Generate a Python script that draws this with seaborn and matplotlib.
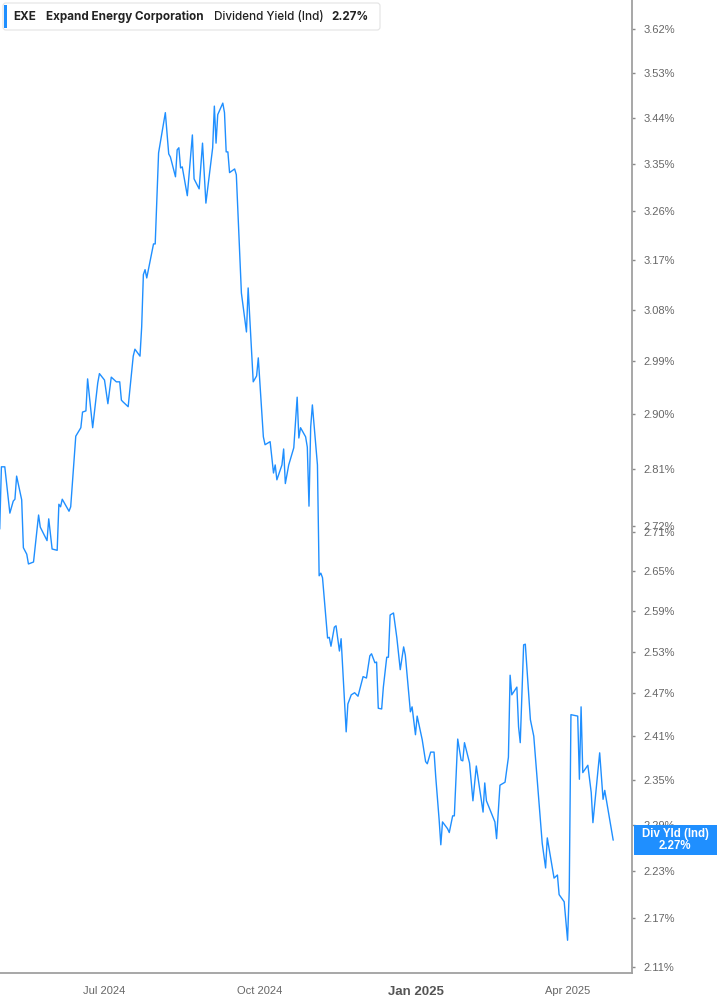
import pandas as pd
import matplotlib.pyplot as plt
import matplotlib.ticker as mticker
from matplotlib.patches import Rectangle, FancyBboxPatch
import seaborn as sns

# Dividend yield (Ind) readings
dates = [
    '2024-04-30', '2024-05-01', '2024-05-03', '2024-05-06', '2024-05-08', '2024-05-09',
    '2024-05-10', '2024-05-13', '2024-05-14', '2024-05-16', '2024-05-17', '2024-05-20',
    '2024-05-23', '2024-05-24', '2024-05-28', '2024-05-29', '2024-05-31', '2024-06-03',
    '2024-06-04', '2024-06-05', '2024-06-06', '2024-06-10', '2024-06-11', '2024-06-14',
    '2024-06-17', '2024-06-18', '2024-06-20', '2024-06-21', '2024-06-24', '2024-06-27',
    '2024-06-28', '2024-07-01', '2024-07-03', '2024-07-05', '2024-07-08', '2024-07-10',
    '2024-07-11', '2024-07-12', '2024-07-15', '2024-07-18', '2024-07-19', '2024-07-22',
    '2024-07-23', '2024-07-24', '2024-07-25', '2024-07-26', '2024-07-30', '2024-07-31',
    '2024-08-02', '2024-08-06', '2024-08-08', '2024-08-09', '2024-08-12', '2024-08-13',
    '2024-08-14', '2024-08-15', '2024-08-16', '2024-08-19', '2024-08-22', '2024-08-23',
    '2024-08-26', '2024-08-28', '2024-08-30', '2024-09-03', '2024-09-04', '2024-09-05',
    '2024-09-06', '2024-09-09', '2024-09-10', '2024-09-11', '2024-09-12', '2024-09-13',
    '2024-09-16', '2024-09-17', '2024-09-20', '2024-09-23', '2024-09-24', '2024-09-27',
    '2024-09-29', '2024-09-30', '2024-10-03', '2024-10-04', '2024-10-07', '2024-10-09',
    '2024-10-10', '2024-10-11', '2024-10-14', '2024-10-15', '2024-10-16', '2024-10-18',
    '2024-10-21', '2024-10-23', '2024-10-24', '2024-10-25', '2024-10-28', '2024-10-29',
    '2024-10-30', '2024-10-31', '2024-11-01', '2024-11-04', '2024-11-05', '2024-11-06',
    '2024-11-07', '2024-11-10', '2024-11-11', '2024-11-12', '2024-11-14', '2024-11-15',
    '2024-11-17', '2024-11-18', '2024-11-21', '2024-11-22', '2024-11-24', '2024-11-26',
    '2024-11-28', '2024-12-01', '2024-12-03', '2024-12-05', '2024-12-06', '2024-12-08',
    '2024-12-09', '2024-12-10', '2024-12-12', '2024-12-13', '2024-12-15', '2024-12-16',
    '2024-12-17', '2024-12-19', '2024-12-21', '2024-12-23', '2024-12-25', '2024-12-26',
    '2024-12-29', '2024-12-30', '2025-01-01', '2025-01-02', '2025-01-05', '2025-01-07',
    '2025-01-08', '2025-01-10', '2025-01-12', '2025-01-13', '2025-01-15', '2025-01-16',
    '2025-01-17', '2025-01-20', '2025-01-21', '2025-01-23', '2025-01-24', '2025-01-26',
    '2025-01-28', '2025-01-29', '2025-01-30', '2025-02-02', '2025-02-04', '2025-02-06',
    '2025-02-10', '2025-02-11', '2025-02-12', '2025-02-17', '2025-02-18', '2025-02-20',
    '2025-02-23', '2025-02-25', '2025-02-26', '2025-02-27', '2025-03-02', '2025-03-03',
    '2025-03-04', '2025-03-06', '2025-03-07', '2025-03-10', '2025-03-12', '2025-03-17',
    '2025-03-19', '2025-03-20', '2025-03-24', '2025-03-26', '2025-03-27', '2025-03-30',
    '2025-04-01', '2025-04-02', '2025-04-03', '2025-04-07', '2025-04-08', '2025-04-09',
    '2025-04-10', '2025-04-13', '2025-04-15', '2025-04-16', '2025-04-20', '2025-04-22',
    '2025-04-23', '2025-04-28',
]
yields = [
    2.715, 2.814, 2.814, 2.740, 2.759, 2.762,
    2.799, 2.761, 2.686, 2.676, 2.661, 2.664,
    2.737, 2.718, 2.697, 2.731, 2.684, 2.682,
    2.754, 2.750, 2.762, 2.743, 2.750, 2.864,
    2.878, 2.904, 2.906, 2.960, 2.878, 2.953,
    2.969, 2.958, 2.918, 2.963, 2.955, 2.955,
    2.924, 2.921, 2.913, 2.999, 3.011, 2.999,
    3.050, 3.143, 3.152, 3.137, 3.199, 3.199,
    3.371, 3.450, 3.369, 3.363, 3.325, 3.377,
    3.381, 3.342, 3.344, 3.289, 3.406, 3.321,
    3.302, 3.390, 3.275, 3.381, 3.463, 3.390,
    3.446, 3.469, 3.450, 3.373, 3.373, 3.333,
    3.340, 3.329, 3.110, 3.041, 3.119, 2.955,
    2.965, 2.996, 2.863, 2.850, 2.855, 2.804,
    2.817, 2.793, 2.817, 2.843, 2.787, 2.817,
    2.845, 2.929, 2.861, 2.878, 2.863, 2.846,
    2.751, 2.879, 2.916, 2.817, 2.643, 2.647,
    2.640, 2.550, 2.551, 2.538, 2.566, 2.568,
    2.531, 2.549, 2.416, 2.455, 2.468, 2.471,
    2.466, 2.494, 2.492, 2.524, 2.527, 2.514,
    2.515, 2.449, 2.448, 2.479, 2.522, 2.522,
    2.584, 2.587, 2.550, 2.504, 2.537, 2.525,
    2.444, 2.451, 2.412, 2.438, 2.405, 2.375,
    2.372, 2.388, 2.388, 2.354, 2.297, 2.264,
    2.294, 2.285, 2.280, 2.302, 2.302, 2.406,
    2.377, 2.376, 2.401, 2.373, 2.322, 2.369,
    2.307, 2.346, 2.322, 2.294, 2.272, 2.343,
    2.347, 2.381, 2.496, 2.468, 2.479, 2.423,
    2.401, 2.540, 2.541, 2.433, 2.410, 2.266,
    2.234, 2.273, 2.221, 2.225, 2.200, 2.191,
    2.143, 2.206, 2.440, 2.438, 2.351, 2.451,
    2.360, 2.370, 2.333, 2.293, 2.387, 2.324,
    2.336, 2.270,
]

y_ticks = [2.11, 2.17, 2.23, 2.29, 2.35, 2.41, 2.47, 2.53, 2.59, 2.65, 2.71,
           2.72, 2.81, 2.90, 2.99, 3.08, 3.17, 3.26, 3.35, 3.44, 3.53, 3.62]
x_ticks = ['2024-07-01', '2024-10-01', '2025-01-01', '2025-04-01']
x_labels = ['Jul 2024', 'Oct 2024', 'Jan 2025', 'Apr 2025']

legend_parts = ['EXE', 'Expand Energy Corporation', 'Dividend Yield (Ind)', '2.27%']
last_label = 'Div Yld (Ind)\n2.27%'

df = pd.DataFrame({'Date': pd.to_datetime(dates), 'Yield': yields})

sns.set_style('white')
plt.rcParams['font.family'] = ['Liberation Sans', 'DejaVu Sans']

W, H = 717, 1005
blue = '#1f8fff'
fig = plt.figure(figsize=(W / 100, H / 100), dpi=100)
ax = fig.add_axes([0, 32 / H, 632 / W, 973 / H])

sns.lineplot(data=df, x='Date', y='Yield', ax=ax, color=blue, linewidth=1.0,
             estimator=None, sort=False)

ax.set_yscale('log')
ax.set_ylim(2.103, 3.681)
ax.set_xlim(pd.Timestamp('2024-04-30 04:00'), pd.Timestamp('2025-05-09 03:00'))

# y axis on the right, percent labels
ax.yaxis.tick_right()
ax.yaxis.set_major_locator(mticker.FixedLocator(y_ticks))
ax.yaxis.set_minor_locator(mticker.NullLocator())
ax.yaxis.set_major_formatter(mticker.FuncFormatter(lambda v, p: f'{v:.2f}%'))
ax.tick_params(axis='y', which='major', length=2.5, width=1, color='#8a8a8a',
               pad=6, labelsize=8, labelcolor='#666666')

ax.set_xticks(pd.to_datetime(x_ticks))
ax.set_xticklabels(x_labels)
ax.tick_params(axis='x', length=4, width=1, color='#9a9a9a', pad=5,
               labelsize=8, labelcolor='#666666')
for lbl in ax.get_xticklabels():
    if lbl.get_text() == 'Jan 2025':
        lbl.set_fontweight('bold')
        lbl.set_fontsize(9.5)
        lbl.set_color('#555555')

ax.set_xlabel('')
ax.set_ylabel('')
for side in ['left', 'top']:
    ax.spines[side].set_visible(False)
for side in ['right', 'bottom']:
    ax.spines[side].set_color('#a0a0a0')
    ax.spines[side].set_linewidth(1.3)

# legend box at top left
fig.patches.append(FancyBboxPatch((3 / W, 1 - 30 / H), 377 / W, 27 / H,
                                  boxstyle='round,pad=0,rounding_size=0.004',
                                  mutation_aspect=W / H,
                                  transform=fig.transFigure, facecolor='white',
                                  edgecolor='#e3e3e3', linewidth=0.8, zorder=5))
fig.patches.append(Rectangle((4 / W, 1 - 28 / H), 3 / W, 23 / H,
                             transform=fig.transFigure, facecolor=blue,
                             edgecolor='none', zorder=6))
legend_x = [13, 46, 214, 331]
legend_weight = ['bold', 'bold', 'medium', 'bold']
for txt, lx, wt in zip(legend_parts, legend_x, legend_weight):
    fig.text(lx / W, 1 - 17 / H, txt, ha='left', va='center', fontsize=8.4,
             fontweight=wt, color='#222222', family=['Inter', 'DejaVu Sans'],
             zorder=7)

# last value marker on the right axis
fig.canvas.draw()
y_disp = ax.transData.transform((ax.get_xlim()[0], yields[-1]))[1]
yc = y_disp / H
fig.patches.append(Rectangle((634 / W, yc - 15 / H), (W - 634) / W, 30 / H,
                             transform=fig.transFigure, facecolor=blue,
                             edgecolor='none', zorder=8))
fig.text(675 / W, yc, last_label, ha='center', va='center', fontsize=8.3,
         fontweight='bold', color='white', linespacing=1.0, zorder=9)

fig.savefig('out.png', dpi=100, facecolor='white')
